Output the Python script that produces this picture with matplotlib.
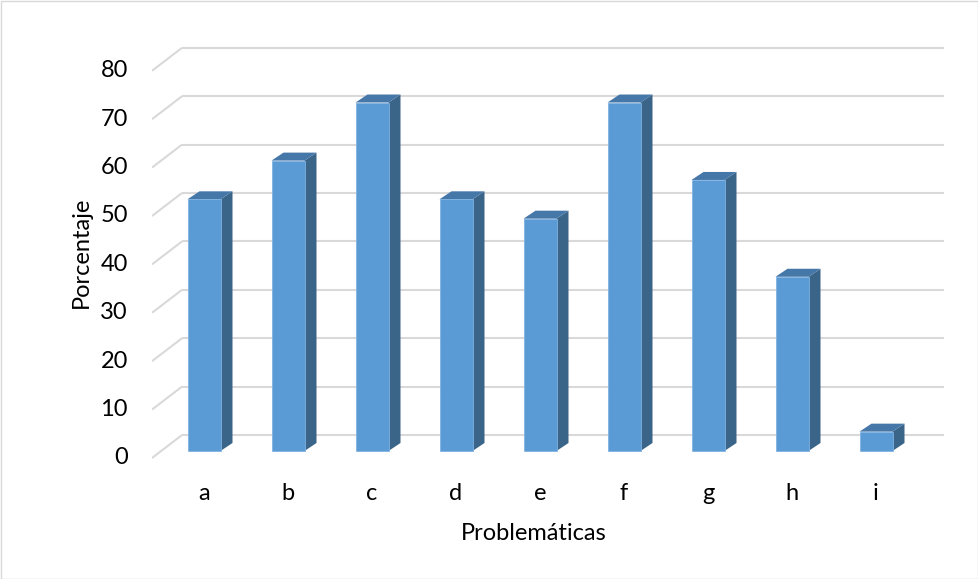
import matplotlib.pyplot as plt
from matplotlib.patches import Polygon, Rectangle

categorias = ["a", "b", "c", "d", "e", "f", "g", "h", "i"]
porcentajes = [52, 60, 72, 52, 48, 72, 56, 36, 4]
ticks_y = [0, 10, 20, 30, 40, 50, 60, 70, 80]

plt.rcParams['font.family'] = ['Lato', 'DejaVu Sans']

fig = plt.figure(figsize=(9.79, 5.79), dpi=100)
ax = fig.add_axes([152 / 979, 109 / 579, 792 / 979, 430 / 579])

# pixel scale helpers (x: 84 px per category, y: 4.84 px per unit)
px_x = 1 / 84.0
px_y = 1 / 4.84

ax.set_xlim(-52 * px_x, 740 * px_x)
ax.set_ylim(-19 * px_y, 411 * px_y)
ax.axis('off')

# oblique offsets
front_dx, front_dy = -52 * px_x, -7 * px_y
back_dx, back_dy = -22 * px_x, 16 * px_y
bar_w = 33 * px_x
bar_dx, bar_dy = 12 * px_x, 8 * px_y

fs = 17

grid_col = '#d9d9d9'
x_back_end = 740 * px_x
for v in ticks_y:
    ax.plot([front_dx, back_dx], [v + front_dy, v + back_dy],
            color=grid_col, lw=1.5, zorder=1, solid_capstyle='butt')
    ax.plot([back_dx, x_back_end], [v + back_dy, v + back_dy],
            color=grid_col, lw=1.5, zorder=1, solid_capstyle='butt')
    ax.text(front_dx - 24 * px_x, v + front_dy, str(v), ha='right', va='center',
            fontsize=fs, color='#000000')

col_front = '#5b9bd5'
col_top = '#4677a9'
col_side = '#3b6489'
for i, val in enumerate(porcentajes):
    x0 = i - bar_w / 2
    x1 = i + bar_w / 2
    side = Polygon([(x1, 0), (x1 + bar_dx, bar_dy), (x1 + bar_dx, val + bar_dy), (x1, val)],
                   closed=True, facecolor=col_side, edgecolor='none', zorder=3)
    top = Polygon([(x0, val), (x0 + bar_dx, val + bar_dy), (x1 + bar_dx, val + bar_dy), (x1, val)],
                  closed=True, facecolor=col_top, edgecolor='none', zorder=3)
    front = Polygon([(x0, 0), (x1, 0), (x1, val), (x0, val)],
                    closed=True, facecolor=col_front, edgecolor='#7fb2e0', lw=0.6, zorder=4)
    ax.add_patch(side)
    ax.add_patch(top)
    ax.add_patch(front)
    ax.text(i, -42 * px_y, categorias[i], ha='center', va='center', fontsize=fs)

fig.text(534 / 979, 1 - 534 / 579, "Problemáticas", ha='center', va='center', fontsize=fs)
fig.text(81 / 979, 1 - 252 / 579, "Porcentaje", ha='center', va='center', fontsize=fs,
         rotation=90)

fig.patches.append(Rectangle((0.5 / 979, 0.5 / 579), 977.5 / 979, 577.5 / 579,
                             transform=fig.transFigure, fill=False,
                             edgecolor='#d9d9d9', lw=1))

fig.savefig('out.png', dpi=100)
